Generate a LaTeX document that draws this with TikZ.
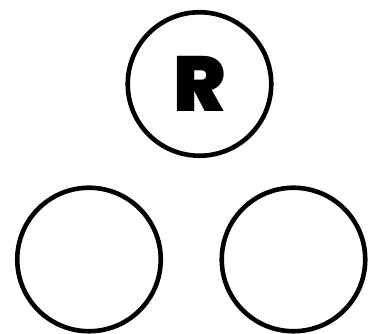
\documentclass[tikz,border=0pt]{standalone}
\usepackage{fontspec}
\setmainfont{Liberation Sans}
\newfontfamily\heavyfont{Poppins Black}
\usepackage{tikz}
\usetikzlibrary{positioning}

\begin{document}
\begin{tikzpicture}[x=1pt,y=1pt,
 nd/.style={draw,circle,line width=4.6pt,minimum size=143.5pt,inner sep=0pt,font=\fontsize{78}{78}\heavyfont}]
\useasboundingbox (0,0) rectangle (368,334);
\node[nd] (root) at (199.5,250) {R};
\node[nd] (lt) at (89,74.5) {};
\node[nd] (rt) at (293.5,74.5) {};
\end{tikzpicture}
\end{document}
